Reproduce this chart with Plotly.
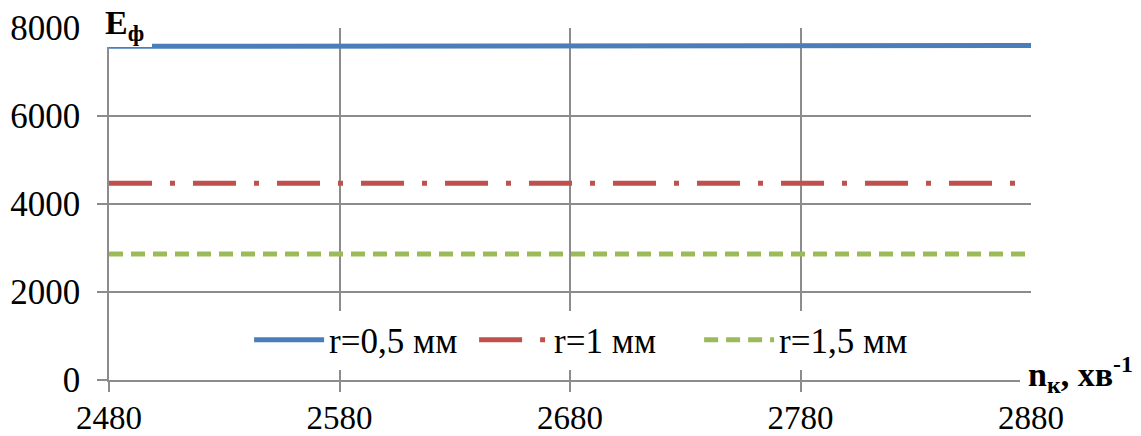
import plotly.graph_objects as go

x_vals = [2480, 2580, 2680, 2780, 2880]
e_r05 = [7585, 7588, 7591, 7595, 7600]
e_r10 = [4470, 4470, 4470, 4470, 4470]
e_r15 = [2865, 2865, 2865, 2865, 2865]
series_names = ["r=0,5 мм", "r=1 мм", "r=1,5 мм"]
x_ticks = [2480, 2580, 2680, 2780, 2880]
y_ticks = [0, 2000, 4000, 6000, 8000]

FONT = "Liberation Serif, Times New Roman, serif"
GRID = "#8c8c8c"

W, H = 1141, 436
L, R, T, B = 109, W - 1031, 28, H - 380
PW, PH = W - L - R, H - T - B

def px(x):
    return (x - L) / PW

def py(y):
    return (H - B - y) / PH

fig = go.Figure()
fig.add_trace(go.Scatter(x=x_vals, y=e_r05, mode="lines", name=series_names[0],
                         line=dict(color="#4a7ebb", width=5)))
fig.add_trace(go.Scatter(x=x_vals, y=e_r10, mode="lines", name=series_names[1],
                         line=dict(color="#c0504d", width=5, dash="43px,18px,5px,18px")))
fig.add_trace(go.Scatter(x=x_vals, y=e_r15, mode="lines", name=series_names[2],
                         line=dict(color="#9bbb59", width=5, dash="14px,8px")))

fig.update_layout(
    width=W, height=H,
    margin=dict(l=L, r=R, t=T, b=B, autoexpand=False),
    paper_bgcolor="white", plot_bgcolor="white",
    font=dict(family=FONT, size=35, color="black"),
    showlegend=True,
    legend=dict(orientation="h", x=0.518, y=py(340), xanchor="center", yanchor="middle",
                bgcolor="white", itemwidth=70, font=dict(size=35, family=FONT),
                entrywidth=140, tracegroupgap=0),
    xaxis=dict(range=[2480, 2880], tickvals=x_ticks, showgrid=True, gridcolor=GRID, gridwidth=1.5,
               showline=True, linecolor=GRID, linewidth=1.5, ticks="outside", ticklen=10,
               tickcolor=GRID, tickwidth=1.5, zeroline=False, automargin=False,
               tickfont=dict(size=33, family=FONT), ticklabelstandoff=-2),
    yaxis=dict(range=[0, 8000], tickvals=y_ticks, showgrid=True, gridcolor=GRID, gridwidth=1.5,
               showline=True, linecolor=GRID, linewidth=1.5, ticks="outside", ticklen=10,
               tickcolor=GRID, tickwidth=1.5, zeroline=False, automargin=False,
               tickfont=dict(size=35, family=FONT), ticklabelstandoff=10),
)

# white label backgrounds covering grid/axis as in the reference
fig.add_shape(type="rect", xref="paper", yref="paper", layer="above",
              x0=px(96), x1=px(152), y0=py(47), y1=py(8),
              fillcolor="white", line=dict(width=0))
fig.add_shape(type="rect", xref="paper", yref="paper", layer="above",
              x0=px(1020), x1=px(1140), y0=py(398), y1=py(348),
              fillcolor="white", line=dict(width=0))

fig.add_annotation(text="<b>E<sub>ф</sub></b>", xref="paper", yref="paper",
                   x=px(104), y=py(47), xanchor="left", yanchor="bottom",
                   showarrow=False, borderpad=0,
                   font=dict(size=34, family=FONT, color="black"))
fig.add_annotation(text="<b>n<sub>к</sub>, хв<sup>-1</sup></b>", xref="paper", yref="paper",
                   x=px(1025), y=py(348), xanchor="left", yanchor="top",
                   showarrow=False, borderpad=2,
                   font=dict(size=34, family=FONT, color="black"))

fig.write_html("out.html", config={"displayModeBar": False},
               post_script="document.body.style.margin='0px';")
